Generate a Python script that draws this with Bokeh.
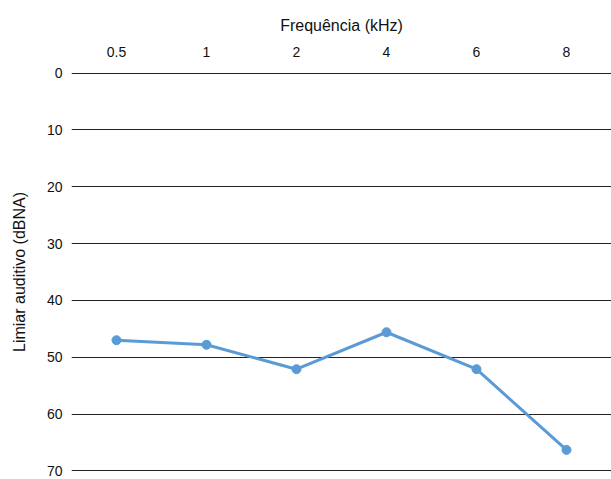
from bokeh.plotting import figure
from bokeh.models import Range1d, FixedTicker
from bokeh.embed import file_html
from bokeh.resources import INLINE

freqs = ["0.5", "1", "2", "4", "6", "8"]
thresholds = [47.0, 47.8, 52.1, 45.6, 52.1, 66.3]
y_ticks = [0, 10, 20, 30, 40, 50, 60, 70]

FONT = "Liberation Sans"

p = figure(x_range=freqs, y_range=Range1d(70.1, -0.1),
           x_axis_location="above",
           width=611, height=479,
           output_backend="svg", toolbar_location=None,
           min_border_left=71, min_border_right=0, min_border_top=72, min_border_bottom=8)

p.outline_line_color = None
p.background_fill_color = "white"
p.border_fill_color = "white"

p.xgrid.grid_line_color = None
p.ygrid.grid_line_color = "#222222"
p.ygrid.grid_line_width = 1.2
p.yaxis.ticker = FixedTicker(ticks=y_ticks)

for ax in (p.xaxis[0], p.yaxis[0]):
    ax.axis_line_color = None
    ax.major_tick_line_color = None
    ax.minor_tick_line_color = None
    ax.major_label_text_font = FONT
    ax.major_label_text_font_size = "14px"
    ax.major_label_text_line_height = 1.0
    ax.major_label_text_color = "#111111"
    ax.axis_label_text_font = FONT
    ax.axis_label_text_font_size = "16px"
    ax.axis_label_text_font_style = "normal"
    ax.axis_label_text_color = "#111111"

p.xaxis.axis_label = "Frequência (kHz)"
p.yaxis.axis_label = "Limiar auditivo (dBNA)"
p.xaxis.major_label_standoff = 10
p.xaxis.axis_label_standoff = 10
p.yaxis.major_label_standoff = 3
p.yaxis.axis_label_standoff = 16

p.line(freqs, thresholds, line_color="#5b9bd5", line_width=3)
p.scatter(freqs, thresholds, size=9, fill_color="#5b9bd5", line_color="#5b9bd5")

open("out.html", "w").write(file_html(p, INLINE))
